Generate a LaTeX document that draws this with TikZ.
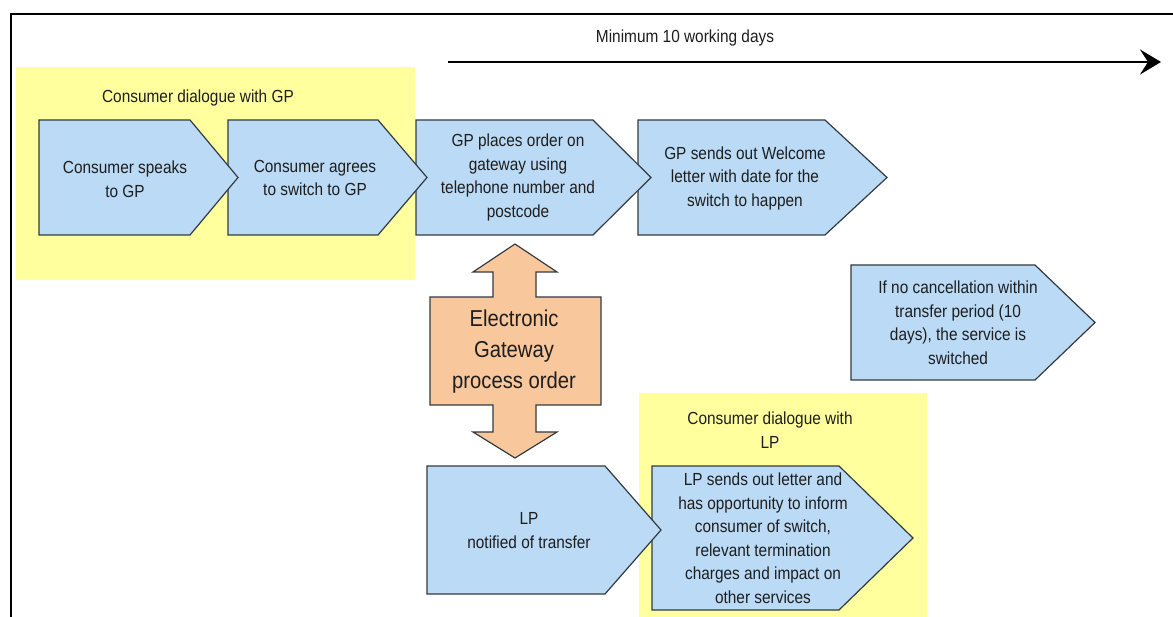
\documentclass[tikz,border=0pt]{standalone}
\usepackage{fontspec}
\setmainfont{Liberation Sans}[FakeStretch=0.88]
\usetikzlibrary{arrows.meta}

\definecolor{boxblue}{HTML}{BADAF6}
\definecolor{panelyellow}{HTML}{FFFF9E}
\definecolor{gateorange}{HTML}{F9C79C}
\definecolor{edgegray}{HTML}{333B40}
\definecolor{inkgray}{HTML}{1E1E1E}

% step arrow: left edge, body end, tip, top, bottom
\newcommand\stepshape[5]{%
  \draw[stepshape] (#1,#4) -- (#2,#4) -- (#3,{(#4+#5)/2}) -- (#2,#5) -- (#1,#5) -- cycle;}

\begin{document}
\begin{tikzpicture}[x=1pt,y=-1pt,
  stepshape/.style={fill=boxblue,draw=edgegray,line width=1.2pt,line join=miter},
  steptext/.style={font=\fontsize{17.5}{23.5}\selectfont,align=center,text=inkgray,inner sep=0pt},
  paneltext/.style={font=\fontsize{17.5}{24.5}\selectfont,align=center,text=inkgray,inner sep=0pt},
  gatetext/.style={font=\fontsize{23}{31}\selectfont,align=center,text=inkgray,inner sep=0pt},
  panel/.style={fill=panelyellow,draw=none},
  frameline/.style={line width=2.5pt,draw=black}]

\useasboundingbox (0,0) rectangle (1173,617);
\fill[white] (0,0) rectangle (1173,617);

% dialogue panels
\fill[panel] (16,67) rectangle (415,280);
\fill[panel] (639,393) rectangle (927,617);

% outer frame (top and left)
\draw[frameline] (11,617) -- (11,14) -- (1173,14);

% time line
\coordinate (tstart) at (448,62);
\coordinate (tend) at (1161,62);
\draw[line width=2.5pt,-{Stealth[length=21pt,width=25pt,inset=8pt]}] (tstart) -- (tend);
\node[steptext] (days) at (685,38) {Minimum 10 working days};

% panel headings
\node[paneltext] (gphead) at (198,98) {Consumer dialogue with GP};
\node[paneltext] (lphead) at (770,430) {Consumer dialogue with\\LP};

% top row of steps (later steps sit underneath earlier ones)
\stepshape{638}{825}{887}{120}{235}
\stepshape{416}{593}{651}{120}{235}
\stepshape{228}{378}{427}{120}{235}
\stepshape{39}{190}{238}{120}{235}
\node[steptext] (s1) at (125,179) {Consumer speaks\\to GP};
\node[steptext] (s2) at (315,178) {Consumer agrees\\to switch to GP};
\node[steptext] (s3) at (518,177.5) {GP places order on\\gateway using\\telephone number and\\postcode};
\node[steptext] (s4) at (745,178) {GP sends out Welcome\\letter with date for the\\switch to happen};

% final step
\stepshape{851}{1035}{1095}{265}{380}
\node[steptext] (s5) at (958,322.5) {If no cancellation within\\transfer period (10\\days), the service is\\switched};

% lower row of steps
\stepshape{652}{839}{913}{466}{610}
\stepshape{427}{605}{661}{466}{594}
\node[steptext] (lp1) at (529,530.5) {LP\\notified of transfer};
\node[steptext] (lp2) at (763,538) {LP sends out letter and\\has opportunity to inform\\consumer of switch,\\relevant termination\\charges and impact on\\other services};

% electronic gateway double arrow
\draw[fill=gateorange,draw=edgegray,line width=1.2pt]
  (515,244) -- (557,272) -- (536,272) -- (536,297) -- (601,297) -- (601,405)
  -- (536,405) -- (536,432) -- (557,432) -- (515,458) -- (473,432) -- (493,432)
  -- (493,405) -- (430,405) -- (430,297) -- (493,297) -- (493,272) -- (473,272) -- cycle;
\node[gatetext] (gate) at (514,352) {Electronic\\Gateway\\process order};

\end{tikzpicture}
\end{document}
